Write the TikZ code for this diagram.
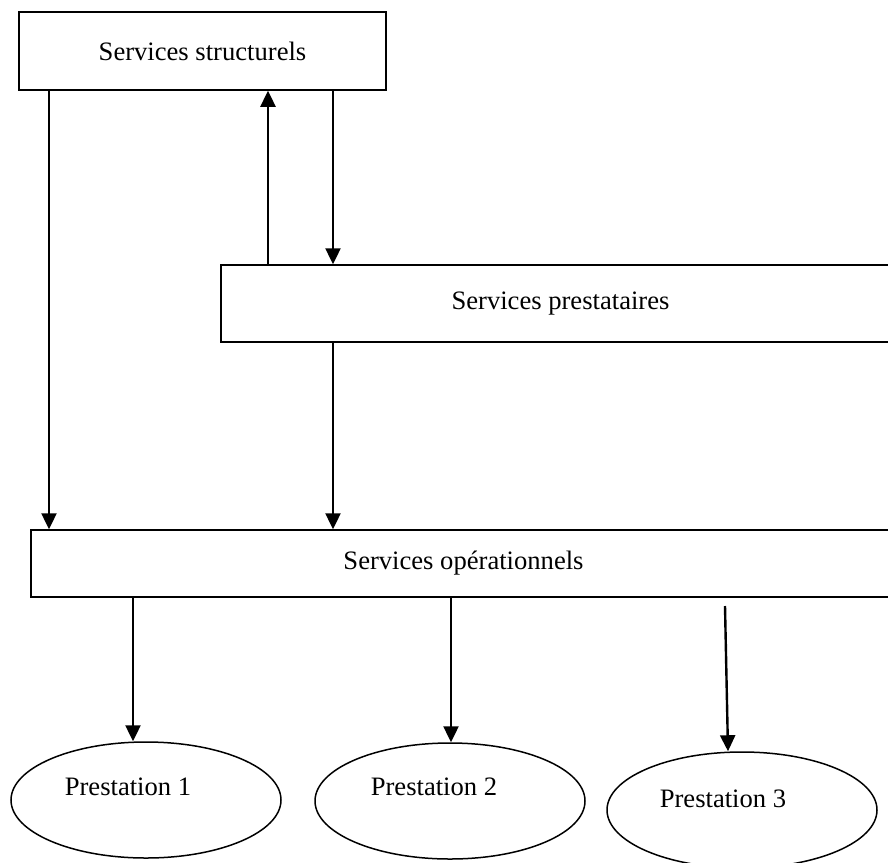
\documentclass[tikz,border=0pt]{standalone}
\usepackage{fontspec}
\setmainfont{Liberation Serif}
\usetikzlibrary{arrows.meta,shapes.geometric}
\begin{document}
\begin{tikzpicture}[x=0.5pt,y=-0.5pt,
  boite/.style={draw,line width=0.75pt,inner sep=0pt},
  presta/.style={draw,ellipse,line width=0.75pt,inner sep=0pt,minimum width=135pt,minimum height=58pt},
  fleche/.style={-{Triangle[length=8pt,width=7.5pt]},line width=1.2pt},
  font=\fontsize{13.3}{15}\selectfont]
\clip (0,0) rectangle (888,862);
% les services
\node[boite,minimum width=183.5pt,minimum height=39pt] (S) at (202.5,51) {Services structurels};
\node[boite,minimum width=339.5pt,minimum height=38.5pt] (P) at (560.5,303.5) {Services prestataires};
\node[boite,minimum width=432.5pt,minimum height=33.5pt] (O) at (463.5,563.5) {Services op\'erationnels};
% les prestations
\node[presta] (E1) at (146,800) {};
\node (L1) at (128,787) {Prestation 1};
\node[presta] (E2) at (450,801) {};
\node (L2) at (434,787) {Prestation 2};
\node[presta] (E3) at (742,810) {};
\node (L3) at (723,799) {Prestation 3};
% les fleches
\draw[fleche] (S.south -| 49,0) -- (O.north -| 49,0);
\draw[fleche] (P.north -| 268,0) -- (S.south -| 268,0);
\draw[fleche] (S.south -| 333,0) -- (P.north -| 333,0);
\draw[fleche] (P.south -| 333,0) -- (O.north -| 333,0);
\draw[fleche] (O.south -| 133,0) -- (E1.north -| 133,0);
\draw[fleche] (O.south -| 451,0) -- (E2.north -| 451,0);
\coordinate (d3) at (725,606);
\draw[fleche] (d3) -- (E3.north -| 728,0);
\end{tikzpicture}
\end{document}
